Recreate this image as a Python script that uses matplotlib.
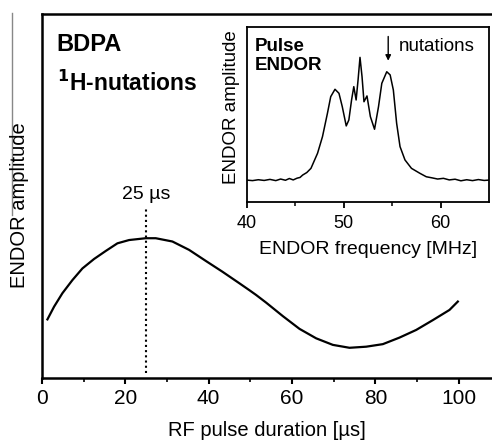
import matplotlib
matplotlib.use("Agg")
import matplotlib.pyplot as plt

plt.rcParams['font.family'] = ['Liberation Sans', 'DejaVu Sans']

# Main nutation curve
pulse_us = [1.3, 2.9, 4.9, 7.3, 9.7, 12.5, 15.3, 18.1, 20.9, 24.9, 27.3, 31.3, 35.3,
            39.4, 43.3, 47.4, 49.8, 51.4, 53.8, 57.8, 61.8, 65.8, 69.8, 73.8, 77.8,
            81.8, 85.8, 89.8, 93.8, 97.8, 99.8]
amplitude = [0.161, 0.196, 0.233, 0.269, 0.301, 0.327, 0.349, 0.370, 0.379, 0.384,
             0.384, 0.375, 0.352, 0.321, 0.292, 0.260, 0.241, 0.228, 0.207, 0.170,
             0.135, 0.109, 0.091, 0.083, 0.086, 0.093, 0.111, 0.132, 0.159, 0.187,
             0.210]
marker_us = 25

# Inset ENDOR spectrum
freq_mhz = [40.0, 40.6, 41.2, 41.8, 42.4, 43.0, 43.5, 44.0, 44.4, 44.8, 45.2, 45.5,
            45.78, 46.2, 46.63, 47.31, 47.82, 48.33, 48.67, 49.11, 49.52, 49.86, 50.27,
            50.54, 50.82, 51.05, 51.29, 51.49, 51.69, 51.90, 52.10, 52.41, 52.76, 53.19,
            53.60, 53.94, 54.45, 54.80, 55.13, 55.47, 55.82, 56.33, 57.0, 57.86, 58.53,
            59.1, 59.7, 60.3, 60.9, 61.5, 62.1, 62.7, 63.3, 63.9, 64.5, 65.0]
endor = [0.125, 0.122, 0.127, 0.123, 0.129, 0.122, 0.131, 0.124, 0.134, 0.126, 0.136,
         0.140, 0.154, 0.168, 0.192, 0.278, 0.373, 0.506, 0.601, 0.643, 0.620, 0.544,
         0.434, 0.468, 0.582, 0.658, 0.582, 0.696, 0.825, 0.715, 0.572, 0.605, 0.487,
         0.415, 0.544, 0.677, 0.743, 0.725, 0.639, 0.449, 0.316, 0.240, 0.192, 0.164,
         0.144, 0.138, 0.131, 0.135, 0.126, 0.130, 0.121, 0.127, 0.122, 0.128, 0.123,
         0.125]
arrow_mhz = 54.6

W, H = 492, 440
fig = plt.figure(figsize=(W / 100, H / 100), dpi=100)

def box(l, t, r, b):
    return [l / W, 1 - b / H, (r - l) / W, (b - t) / H]

ax = fig.add_axes(box(42, 14, 492, 378))
ax.plot(pulse_us, amplitude, color='black', lw=1.6)
ax.plot([marker_us, marker_us], [0.015, 0.47], color='black', lw=1.5, ls=(0, (1, 1.5)))
ax.text(marker_us, 0.505, '25 µs', ha='center', va='center', fontsize=14)
ax.set_xlim(0, 108)
ax.set_ylim(0, 1)
ax.set_yticks([])
ax.set_xticks([0, 20, 40, 60, 80, 100])
ax.set_xticks([10, 30, 50, 70, 90], minor=True)
ax.tick_params(axis='x', which='major', length=4, width=1.5, labelsize=15, pad=4)
ax.tick_params(axis='x', which='minor', length=3, width=1.2)
for s in ['left', 'bottom', 'top']:
    ax.spines[s].set_linewidth(1.8)
ax.spines['right'].set_visible(False)
ax.set_xlabel('RF pulse duration [µs]', fontsize=14.5, labelpad=9)
fig.text(20 / W, 1 - 205 / H, 'ENDOR amplitude', rotation=90, ha='center', va='center',
         fontsize=14.5)
ax.text(0.033, 0.915, 'BDPA', transform=ax.transAxes, fontsize=17, fontweight='bold',
        ha='left', va='center')
ax.text(0.033, 0.81, r'$^{\mathbf{1}}$H-nutations', transform=ax.transAxes, fontsize=16.5,
        fontweight='bold', ha='left', va='center')

# gray artifact line on the left
fig.add_artist(plt.Line2D([12 / W, 12 / W], [1 - 13 / H, 1 - 215 / H], color='#888888', lw=1))

ins = fig.add_axes(box(246.7, 26.7, 489, 202))
ins.plot(freq_mhz, endor, color='black', lw=1.1)
ins.set_xlim(40, 65)
ins.set_ylim(0, 1)
ins.set_yticks([])
ins.set_xticks([40, 50, 60])
ins.set_xticks([45, 55], minor=True)
ins.tick_params(axis='x', which='major', length=4, width=1.3, labelsize=13, pad=5)
ins.tick_params(axis='x', which='minor', length=3, width=1.1)
for s in ins.spines.values():
    s.set_linewidth(1.3)
ins.set_xlabel('ENDOR frequency [MHz]', fontsize=14, labelpad=7)
fig.text(232 / W, 1 - 107 / H, 'ENDOR amplitude', rotation=90, ha='center', va='center',
         fontsize=13.5)
ins.text(0.035, 0.835, 'Pulse\nENDOR', transform=ins.transAxes, fontsize=13.5,
         fontweight='bold', ha='left', va='center', linespacing=1.15)
ins.annotate('', xy=(arrow_mhz, 0.79), xytext=(arrow_mhz, 0.96),
             arrowprops=dict(arrowstyle='-|>', color='black', lw=1, mutation_scale=8))
ins.text(55.7, 0.885, 'nutations', fontsize=13.5, ha='left', va='center')

fig.savefig('out.png', dpi=100)
